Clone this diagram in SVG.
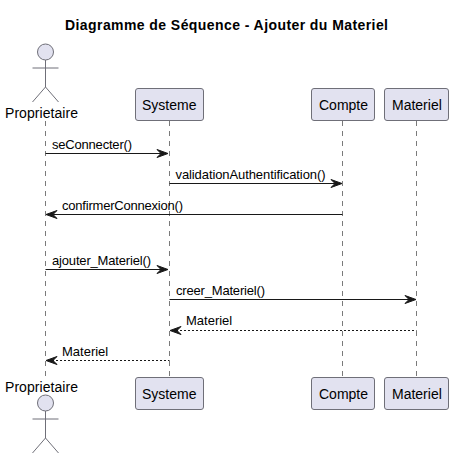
<svg xmlns="http://www.w3.org/2000/svg" width="453" height="459" viewBox="0 0 453 459">
<style>
text{font-family:"Liberation Sans",Arial,sans-serif;fill:#000}
.t{font-size:14px;font-weight:bold}
.p{font-size:14px}
.m{font-size:13px}
.box{fill:#E2E2F0;stroke:#6F6F78;stroke-width:1}
.act{fill:none;stroke:#6F6F78;stroke-width:1}
.life{stroke:#7A7A7A;stroke-width:1;stroke-dasharray:5,5;fill:none}
.msg{stroke:#181818;stroke-width:1;fill:none}
.dash{stroke-dasharray:2,2}
.head{fill:#181818;stroke:#181818;stroke-width:1}
</style>
<rect width="453" height="459" fill="#fff"/>
<text class="t" x="65" y="30" textLength="323" lengthAdjust="spacing">Diagramme de Séquence - Ajouter du Materiel</text>
<g id="lifelines">
<path class="life" d="M45.500 121V377M169.500 121V377M342.500 121V377M416.500 121V377"/>
</g>
<g id="connectors">
<path class="msg" d="M45.500 153.500H166"/><path class="head" d="M157 149.500L168 153.500L157 157.500L161 153.500Z"/>
<path class="msg" d="M169.500 183.500H340"/><path class="head" d="M331 179.500L342 183.500L331 187.500L335 183.500Z"/>
<path class="msg" d="M48 214.500H342.500"/><path class="head" d="M57 210.500L46 214.500L57 218.500L53 214.500Z"/>
<path class="msg" d="M45.500 269.500H166"/><path class="head" d="M157 265.500L168 269.500L157 273.500L161 269.500Z"/>
<path class="msg" d="M169.500 299.500H414"/><path class="head" d="M405 295.500L416 299.500L405 303.500L409 299.500Z"/>
<path class="msg dash" d="M172 330.500H416.500"/><path class="head" d="M181 326.500L170 330.500L181 334.500L177 330.500Z"/>
<path class="msg dash" d="M48 360.500H169.500"/><path class="head" d="M57 356.500L46 360.500L57 364.500L53 360.500Z"/>
<text class="m" x="52" y="149" textLength="80" lengthAdjust="spacing">seConnecter()</text>
<text class="m" x="175.500" y="179" textLength="150" lengthAdjust="spacing">validationAuthentification()</text>
<text class="m" x="62" y="210" textLength="121" lengthAdjust="spacing">confirmerConnexion()</text>
<text class="m" x="52" y="265" textLength="99" lengthAdjust="spacing">ajouter_Materiel()</text>
<text class="m" x="176" y="295" textLength="89" lengthAdjust="spacing">creer_Materiel()</text>
<text class="m" x="186" y="325">Materiel</text>
<text class="m" x="62" y="356">Materiel</text>
</g>
<g id="actor-proprietaire-top">
<circle class="box" cx="45.500" cy="52" r="8"/>
<path class="act" d="M45.500 60V87M32.500 68H58.500M45.500 87L32.500 102M45.500 87L58.500 102"/>
<text class="p" x="5" y="118" textLength="73" lengthAdjust="spacing">Proprietaire</text>
</g>
<g id="actor-proprietaire-bottom">
<text class="p" x="5" y="392" textLength="73" lengthAdjust="spacing">Proprietaire</text>
<circle class="box" cx="45.500" cy="403" r="8"/>
<path class="act" d="M45.500 411V438M32.500 419H58.500M45.500 438L32.500 453M45.500 438L58.500 453"/>
</g>
<g id="systeme-top"><rect class="box" x="135.500" y="88.500" width="68" height="32" rx="2.500"/><text class="p" x="142" y="110">Systeme</text></g>
<g id="compte-top"><rect class="box" x="311.500" y="88.500" width="63" height="32" rx="2.500"/><text class="p" x="319" y="110">Compte</text></g>
<g id="materiel-top"><rect class="box" x="384.500" y="88.500" width="64" height="32" rx="2.500"/><text class="p" x="392" y="110">Materiel</text></g>
<g id="systeme-bottom"><rect class="box" x="135.500" y="377.500" width="68" height="32" rx="2.500"/><text class="p" x="142" y="399">Systeme</text></g>
<g id="compte-bottom"><rect class="box" x="311.500" y="377.500" width="63" height="32" rx="2.500"/><text class="p" x="319" y="399">Compte</text></g>
<g id="materiel-bottom"><rect class="box" x="384.500" y="377.500" width="64" height="32" rx="2.500"/><text class="p" x="392" y="399">Materiel</text></g>
</svg>
